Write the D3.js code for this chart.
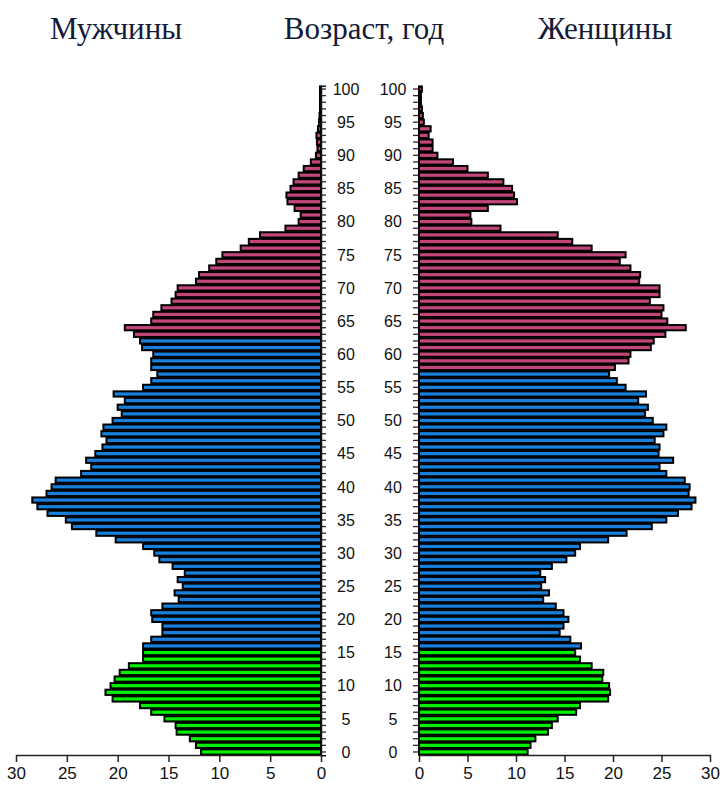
<!DOCTYPE html>
<html>
<head>
<meta charset="utf-8">
<script src="https://cdn.jsdelivr.net/npm/d3@7"></script>
<style>
  html, body { margin: 0; padding: 0; background: #fff; }
  svg { display: block; }
</style>
</head>
<body>
<svg id="chart" width="727" height="788"></svg>
<script>
// ---- data (ages 0..100) ----
const ages = d3.range(0, 101);
const male = [
  11.8, 12.3, 12.9, 14.2, 14.3, 15.4, 16.7, 17.8, 20.5, 21.2,
  20.7, 20.3, 19.8, 18.9, 17.5, 17.5, 17.5, 16.7, 15.6, 15.6,
  16.6, 16.7, 15.6, 14.0, 14.4, 13.6, 14.1, 13.4, 14.6, 15.9,
  16.4, 17.5, 20.2, 22.1, 24.5, 25.1, 26.9, 27.9, 28.4, 27.0,
  26.5, 26.1, 23.6, 22.6, 23.1, 22.2, 21.5, 21.1, 21.6, 21.4,
  20.5, 19.6, 20.0, 19.3, 20.4, 17.5, 16.7, 16.1, 16.7, 16.7,
  16.5, 17.6, 17.8, 18.4, 19.3, 16.7, 16.5, 15.7, 14.7, 14.3,
  14.1, 12.3, 12.0, 11.0, 10.3, 9.7, 7.9, 7.1, 6.0, 3.5,
  2.2, 2.0, 2.6, 3.3, 3.4, 3.0, 2.7, 2.2, 1.7, 1.0,
  0.5, 0.35, 0.4, 0.45, 0.3, 0.2, 0.15, 0.1, 0.1, 0.1,
  0.1
];
const female = [
  11.2, 11.5, 12.0, 13.3, 13.7, 14.3, 16.2, 16.6, 19.5, 19.7,
  19.6, 18.9, 19.0, 17.8, 16.6, 16.1, 16.7, 15.6, 14.5, 14.9,
  15.4, 14.9, 14.1, 12.8, 13.4, 12.6, 13.0, 12.5, 13.7, 15.2,
  16.1, 16.6, 19.5, 21.4, 24.0, 25.5, 26.7, 28.1, 28.5, 27.8,
  27.9, 27.4, 25.5, 24.8, 26.2, 24.7, 24.8, 24.3, 25.2, 25.5,
  24.1, 23.3, 23.6, 22.6, 23.4, 21.3, 20.4, 19.6, 20.2, 21.6,
  21.8, 23.9, 24.2, 25.4, 27.5, 25.6, 25.0, 25.2, 23.8, 24.8,
  24.8, 22.7, 22.8, 21.8, 20.7, 21.3, 17.8, 15.8, 14.3, 8.4,
  5.4, 5.3, 7.1, 10.1, 9.8, 9.6, 8.7, 7.1, 5.0, 3.5,
  1.9, 1.4, 1.4, 1.0, 1.2, 0.5, 0.4, 0.3, 0.2, 0.2,
  0.3
];
// age-group boundaries (last age of each group)
const maleGroupEnds = [15, 62];   // green up to 15, blue up to 62, then purple
const femaleGroupEnds = [15, 57]; // green up to 15, blue up to 57, then purple
const groupColors = ["#00f000", "#1680dc", "#c2467a"];
const xTicks = [0, 5, 10, 15, 20, 25, 30];
const ageTicks = d3.range(0, 101, 5);
const titles = ["Мужчины", "Возраст, год", "Женщины"];

// ---- scales ----
const svg = d3.select("#chart");
const y = d3.scaleBand().domain(ages).range([755.3, 85.7]).padding(0);
const xM = d3.scaleLinear().domain([0, 30]).range([321, 16]);
const xF = d3.scaleLinear().domain([0, 30]).range([419, 710]);

function colorFor(age, ends) {
  if (age <= ends[0]) return groupColors[0];
  if (age <= ends[1]) return groupColors[1];
  return groupColors[2];
}

// ---- bars ----
svg.append("g").selectAll("rect")
  .data(ages)
  .join("rect")
  .attr("x", a => xM(male[a]))
  .attr("y", a => y(a) + 0.7)
  .attr("width", a => xM(0) - xM(male[a]))
  .attr("height", y.bandwidth() - 1.4)
  .attr("fill", a => colorFor(a, maleGroupEnds))
  .attr("stroke", "#000")
  .attr("stroke-width", 2);

svg.append("g").selectAll("rect")
  .data(ages)
  .join("rect")
  .attr("x", xF(0))
  .attr("y", a => y(a) + 0.7)
  .attr("width", a => xF(female[a]) - xF(0))
  .attr("height", y.bandwidth() - 1.4)
  .attr("fill", a => colorFor(a, femaleGroupEnds))
  .attr("stroke", "#000")
  .attr("stroke-width", 2);

// ---- vertical age axes with yearly ticks ----
const ageAxisL = d3.axisRight(y).tickValues(ages).tickSize(5).tickFormat("");
const gL = svg.append("g").attr("transform", `translate(${xM(0)},0)`).call(ageAxisL);
gL.select(".domain").attr("stroke", "#111").attr("stroke-width", 1.5);
gL.selectAll(".tick line").attr("stroke", "#3a2030").attr("stroke-width", 1.3);

const ageAxisR = d3.axisLeft(y).tickValues(ages).tickSize(5).tickFormat("");
const gR = svg.append("g").attr("transform", `translate(${xF(0) - 1},0)`).call(ageAxisR);
gR.select(".domain").attr("stroke", "none");
gR.selectAll(".tick line").attr("stroke", "#3a2030").attr("stroke-width", 1.3);

// age labels (two columns)
const labelFont = "Liberation Sans, Arial, sans-serif";
[346, 393].forEach(cx => {
  svg.append("g").selectAll("text")
    .data(ageTicks)
    .join("text")
    .attr("x", cx)
    .attr("y", a => y(a) + y.bandwidth() / 2)
    .attr("dy", "0.36em")
    .attr("text-anchor", "middle")
    .attr("font-family", labelFont)
    .attr("font-size", 16)
    .attr("fill", "#111")
    .text(a => a);
});

// ---- bottom axes ----
function styleBottom(g) {
  g.select(".domain").attr("stroke", "#222").attr("stroke-width", 1.5);
  g.selectAll(".tick line").attr("stroke", "#222").attr("stroke-width", 1.5);
  g.selectAll(".tick text")
    .attr("font-family", labelFont)
    .attr("font-size", 17)
    .attr("fill", "#111");
}
svg.append("g").attr("transform", "translate(0,755)")
  .call(d3.axisBottom(xM).tickValues(xTicks).tickSize(7).tickSizeOuter(0).tickPadding(5))
  .call(styleBottom);
svg.append("g").attr("transform", "translate(0,755)")
  .call(d3.axisBottom(xF).tickValues(xTicks).tickSize(7).tickSizeOuter(0).tickPadding(5))
  .call(styleBottom);

// ---- titles ----
const titleX = [116, 364, 605];
svg.append("g").selectAll("text")
  .data(titles)
  .join("text")
  .attr("x", (d, i) => titleX[i])
  .attr("y", 39)
  .attr("text-anchor", "middle")
  .attr("font-family", "Liberation Serif, Times New Roman, serif")
  .attr("font-size", 31)
  .attr("fill", "#141a38")
  .text(d => d);
</script>
</body>
</html>
